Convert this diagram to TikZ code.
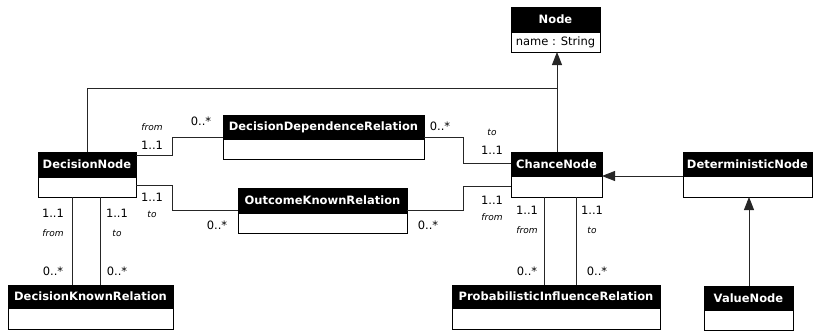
\documentclass[tikz,border=0pt]{standalone}
\usepackage{fontspec}
\setmainfont{DejaVu Sans}
\usetikzlibrary{arrows.meta}
\begin{document}
\begin{tikzpicture}[x=1pt,y=-1pt,
  hdr/.style={draw=black,fill=black,text=white,font=\fontsize{11.5}{12}\selectfont\bfseries,
    anchor=north west,inner sep=0pt,outer sep=0pt},
  bdy/.style={draw=black,fill=white,anchor=north west,inner sep=0pt,outer sep=0pt,
    font=\fontsize{11.5}{12}\selectfont},
  conn/.style={draw=black!85,line width=0.9pt},
  gen/.style={conn,-{Triangle[width=10pt,length=13pt]}},
  mult/.style={font=\fontsize{11.5}{12}\selectfont,inner sep=0pt},
  role/.style={font=\fontsize{9}{10}\selectfont\itshape,inner sep=0pt},
  line width=0.9pt]
\useasboundingbox (0,0) rectangle (817,333);
% classes
\node[hdr,minimum width=89pt,minimum height=25pt] (node) at (511,7) {Node};
\node[bdy,minimum width=89pt,minimum height=20pt] (nodeb) at (511,32) {name : String};
\node[hdr,minimum width=98pt,minimum height=25pt] (dn) at (38,152) {DecisionNode};
\node[bdy,minimum width=98pt,minimum height=20pt] (dnb) at (38,177) {};
\node[hdr,minimum width=201pt,minimum height=24pt] (ddr) at (223,115) {DecisionDependenceRelation};
\node[bdy,minimum width=201pt,minimum height=20pt] (ddrb) at (223,139) {};
\node[hdr,minimum width=169pt,minimum height=25pt] (okr) at (238,188) {OutcomeKnownRelation};
\node[bdy,minimum width=169pt,minimum height=20pt] (okrb) at (238,213) {};
\node[hdr,minimum width=91pt,minimum height=24pt] (cn) at (511,152) {ChanceNode};
\node[bdy,minimum width=91pt,minimum height=21pt] (cnb) at (511,176) {};
\node[hdr,minimum width=129pt,minimum height=24pt] (det) at (683,152) {DeterministicNode};
\node[bdy,minimum width=129pt,minimum height=21pt] (detb) at (683,176) {};
\node[hdr,minimum width=89pt,minimum height=24pt] (val) at (704,286) {ValueNode};
\node[bdy,minimum width=89pt,minimum height=20pt] (valb) at (704,310) {};
\node[hdr,minimum width=208pt,minimum height=23pt] (pir) at (452,285) {ProbabilisticInfluenceRelation};
\node[bdy,minimum width=208pt,minimum height=21pt] (pirb) at (452,308) {};
\node[hdr,minimum width=165pt,minimum height=23pt] (dkr) at (8,285) {DecisionKnownRelation};
\node[bdy,minimum width=165pt,minimum height=21pt] (dkrb) at (8,308) {};
% generalizations
\coordinate (jn) at (557,88);
\draw[conn] (dn.north -| 87,0) |- (jn);
\draw[gen] (cn.north -| 557,0) -- (nodeb.south -| 557,0);
\draw[gen] (det.south west) -- (cnb.north east);
\draw[gen] (val.north -| 749,0) -- (detb.south -| 749,0);
% associations
\draw[conn] (dn.north east |- 0,155) -- (172,155) -- (172,137) -- (ddr.south west |- 0,137);
\draw[conn] (ddr.south east |- 0,137) -- (463,137) -- (463,163) -- (cn.west |- 0,163);
\draw[conn] (dnb.east |- 0,185) -- (172,185) -- (172,210) -- (okr.south west |- 0,210);
\draw[conn] (okr.south east |- 0,210) -- (463,210) -- (463,186) -- (cnb.west |- 0,186);
\draw[conn] (dnb.south -| 72,0) -- (dkr.north -| 72,0);
\draw[conn] (dnb.south -| 100,0) -- (dkr.north -| 100,0);
\draw[conn] (cnb.south -| 544,0) -- (pir.north -| 544,0);
\draw[conn] (cnb.south -| 576,0) -- (pir.north -| 576,0);
% labels
\node[role] (r1) at (152,127) {from};
\node[mult] (m1) at (152,145) {1..1};
\node[mult] (m2) at (201,121) {0..*};
\node[mult] (m3) at (440,126) {0..*};
\node[role] (r2) at (492,132) {to};
\node[mult] (m4) at (492,150) {1..1};
\node[mult] (m5) at (152,197) {1..1};
\node[role] (r3) at (152,214) {to};
\node[mult] (m6) at (217,225) {0..*};
\node[mult] (m7) at (428,225) {0..*};
\node[mult] (m8) at (492,200) {1..1};
\node[role] (r4) at (492,217) {from};
\node[mult] (m9) at (53,213) {1..1};
\node[role] (r5) at (53,233) {from};
\node[mult] (m10) at (53,271) {0..*};
\node[mult] (m11) at (117,213) {1..1};
\node[role] (r6) at (117,233) {to};
\node[mult] (m12) at (117,271) {0..*};
\node[mult] (m13) at (527,210) {1..1};
\node[role] (r7) at (527,230) {from};
\node[mult] (m14) at (527,271) {0..*};
\node[mult] (m15) at (592,210) {1..1};
\node[role] (r8) at (592,230) {to};
\node[mult] (m16) at (597,271) {0..*};
\end{tikzpicture}
\end{document}
